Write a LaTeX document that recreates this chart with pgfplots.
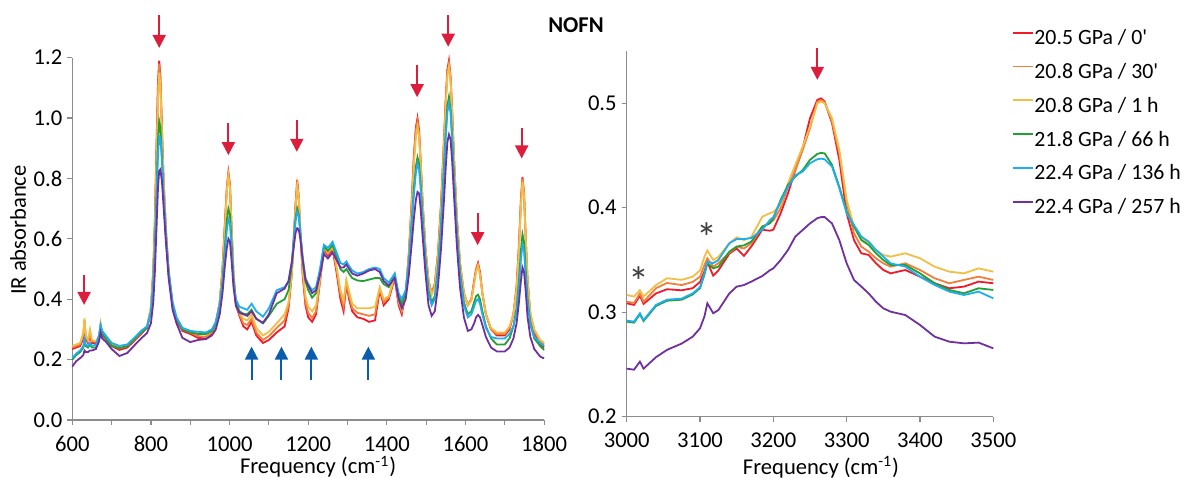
\documentclass[border=0pt]{standalone}
\usepackage{fontspec}
\setmainfont{Carlito}
\usepackage{pgfplots}
\usepackage{pgfplotstable}
\pgfplotsset{compat=1.18}
\usetikzlibrary{arrows.meta}

\definecolor{sR}{HTML}{F01A28}
\definecolor{sO}{HTML}{F07E3C}
\definecolor{sY}{HTML}{F2BE44}
\definecolor{sG}{HTML}{22A032}
\definecolor{sC}{HTML}{1EAEF0}
\definecolor{sP}{HTML}{7030A0}
\definecolor{arrowred}{HTML}{DC1E3C}
\definecolor{arrowblue}{HTML}{0B5CAD}
\definecolor{axisgray}{HTML}{8C8C8C}

% mid-IR region, columns: 0', 30', 1 h, 66 h, 136 h, 257 h
\pgfplotstableread{
f R O Y G C P
600 .235 .240 .245 .200 .205 .177
610 .240 .245 .250 .215 .220 .195
620 .245 .250 .255 .225 .230 .205
628 .270 .280 .290 .240 .245 .215
631 .330 .330 .337 .260 .270 .230
634 .270 .275 .280 .245 .250 .225
640 .255 .260 .265 .240 .245 .225
645 .280 .285 .300 .250 .255 .230
650 .255 .260 .265 .240 .245 .230
660 .255 .260 .260 .240 .250 .235
668 .270 .275 .280 .270 .280 .260
672 .310 .315 .320 .310 .315 .290
676 .280 .285 .290 .285 .295 .270
685 .270 .270 .275 .270 .280 .260
700 .245 .250 .255 .245 .255 .235
720 .232 .237 .245 .238 .245 .212
740 .240 .245 .250 .245 .250 .222
760 .265 .268 .272 .270 .275 .250
775 .285 .288 .292 .290 .295 .270
790 .305 .305 .310 .305 .310 .288
800 .370 .370 .375 .355 .360 .320
806 .500 .490 .480 .450 .450 .390
810 .660 .650 .630 .570 .560 .490
814 .900 .880 .850 .740 .720 .630
818 1.12 1.10 1.06 .930 .880 .770
821 1.19 1.18 1.15 .990 .940 .825
824 1.14 1.13 1.11 .970 .935 .830
828 .970 .960 .950 .870 .860 .790
832 .800 .800 .800 .750 .750 .710
838 .630 .630 .635 .610 .615 .590
845 .490 .490 .495 .485 .495 .470
855 .380 .380 .390 .380 .390 .365
865 .330 .335 .340 .335 .340 .320
880 .295 .300 .305 .300 .305 .272
900 .285 .290 .295 .290 .295 .258
920 .272 .278 .285 .285 .292 .265
940 .270 .275 .282 .285 .290 .268
955 .285 .290 .295 .295 .300 .280
965 .320 .320 .325 .320 .325 .300
975 .390 .390 .390 .380 .380 .350
982 .500 .500 .490 .460 .450 .420
988 .650 .640 .630 .570 .550 .510
993 .770 .760 .760 .660 .630 .570
997 .820 .810 .810 .700 .665 .600
1001 .780 .775 .770 .680 .650 .590
1005 .640 .640 .640 .590 .570 .530
1010 .480 .480 .490 .470 .460 .440
1016 .380 .385 .390 .390 .400 .380
1025 .345 .350 .355 .360 .375 .355
1035 .310 .320 .335 .352 .370 .350
1045 .300 .315 .330 .350 .365 .345
1056 .325 .335 .350 .365 .385 .360
1068 .280 .290 .305 .335 .360 .335
1085 .255 .265 .280 .320 .342 .322
1100 .265 .278 .292 .345 .370 .350
1120 .290 .305 .320 .385 .430 .420
1140 .310 .330 .350 .400 .440 .435
1150 .370 .380 .390 .430 .460 .460
1158 .480 .480 .480 .510 .520 .520
1164 .620 .610 .610 .610 .600 .580
1168 .720 .710 .710 .670 .660 .620
1172 .795 .770 .780 .700 .690 .635
1176 .740 .730 .740 .680 .675 .630
1180 .620 .620 .630 .620 .620 .600
1186 .480 .490 .500 .530 .540 .530
1193 .380 .390 .410 .460 .470 .465
1200 .340 .355 .375 .430 .450 .445
1210 .325 .338 .360 .405 .430 .420
1220 .350 .360 .380 .420 .440 .430
1230 .460 .460 .470 .490 .500 .480
1240 .565 .570 .575 .575 .580 .550
1250 .545 .550 .555 .560 .570 .535
1262 .565 .570 .575 .580 .590 .555
1272 .490 .500 .510 .540 .555 .530
1282 .400 .415 .430 .500 .520 .505
1290 .360 .375 .395 .490 .515 .505
1297 .450 .455 .465 .500 .525 .515
1304 .400 .410 .425 .485 .510 .500
1312 .360 .370 .385 .470 .495 .485
1325 .340 .355 .370 .462 .485 .478
1340 .335 .350 .370 .460 .490 .485
1355 .325 .345 .370 .465 .500 .495
1370 .330 .350 .375 .470 .505 .500
1382 .430 .435 .440 .470 .500 .490
1392 .380 .390 .400 .450 .470 .460
1405 .400 .405 .410 .440 .455 .445
1420 .470 .475 .480 .480 .485 .470
1430 .380 .390 .395 .410 .420 .400
1438 .350 .360 .365 .385 .400 .370
1448 .420 .420 .420 .420 .430 .400
1456 .550 .550 .540 .520 .520 .480
1463 .720 .710 .700 .650 .640 .580
1469 .880 .870 .850 .770 .750 .670
1474 .970 .960 .940 .840 .820 .730
1478 1.00 .990 .970 .870 .850 .755
1482 .960 .950 .940 .850 .830 .750
1486 .860 .850 .850 .780 .770 .700
1491 .720 .720 .720 .670 .660 .610
1498 .570 .570 .570 .540 .530 .490
1506 .460 .460 .460 .430 .420 .380
1514 .420 .420 .415 .390 .380 .345
1522 .450 .450 .440 .410 .400 .360
1530 .550 .550 .540 .500 .490 .440
1538 .720 .710 .700 .650 .640 .570
1545 .920 .910 .900 .830 .810 .720
1550 1.07 1.06 1.05 .960 .940 .840
1554 1.16 1.15 1.14 1.04 1.02 .920
1558 1.19 1.18 1.17 1.07 1.05 .945
1562 1.14 1.13 1.13 1.03 1.02 .930
1566 1.03 1.02 1.02 .940 .930 .860
1571 .860 .860 .860 .800 .790 .740
1578 .670 .670 .670 .630 .620 .580
1586 .520 .520 .520 .490 .480 .440
1596 .420 .420 .420 .390 .380 .340
1606 .380 .380 .380 .350 .340 .295
1615 .400 .400 .395 .360 .350 .300
1622 .460 .455 .450 .390 .375 .320
1627 .500 .500 .490 .410 .395 .340
1632 .520 .515 .510 .415 .400 .348
1637 .490 .485 .480 .400 .385 .340
1643 .420 .420 .420 .360 .350 .315
1652 .350 .350 .350 .310 .305 .275
1665 .300 .300 .305 .270 .275 .240
1680 .280 .285 .290 .250 .270 .227
1700 .280 .285 .290 .250 .270 .227
1712 .300 .305 .310 .270 .285 .240
1722 .350 .350 .350 .310 .310 .270
1730 .440 .440 .430 .370 .360 .320
1736 .580 .570 .560 .460 .440 .390
1741 .730 .720 .710 .560 .530 .460
1745 .805 .800 .790 .615 .580 .505
1749 .750 .750 .740 .590 .560 .490
1753 .610 .610 .610 .500 .480 .430
1758 .460 .460 .460 .400 .390 .340
1765 .350 .350 .355 .320 .315 .275
1775 .290 .295 .300 .270 .275 .235
1790 .250 .260 .265 .245 .255 .210
1800 .240 .250 .255 .232 .245 .204
}\midir

% C-H stretching region
\pgfplotstableread{
f R O Y G C P
3000 .3085 .3100 .3165 .2910 .2920 .2460
3010 .3070 .3090 .3150 .2900 .2910 .2450
3018 .3160 .3180 .3210 .2980 .2990 .2527
3023 .3080 .3100 .3150 .2915 .2925 .2460
3040 .3180 .3230 .3260 .3060 .3070 .2570
3055 .3220 .3280 .3325 .3110 .3120 .2640
3075 .3210 .3260 .3310 .3120 .3130 .2700
3090 .3230 .3290 .3340 .3170 .3180 .2766
3100 .3290 .3340 .3400 .3230 .3240 .2846
3106 .3390 .3450 .3530 .3360 .3370 .2960
3110 .3480 .3516 .3590 .3470 .3480 .3085
3118 .3350 .3436 .3500 .3420 .3470 .2990
3125 .3400 .3470 .3530 .3436 .3500 .3020
3140 .3560 .3570 .3660 .3580 .3660 .3180
3150 .3610 .3628 .3717 .3628 .3700 .3245
3160 .3540 .3610 .3690 .3640 .3700 .3260
3170 .3630 .3660 .3720 .3676 .3710 .3293
3185 .3790 .3820 .3915 .3820 .3790 .3347
3195 .3780 .3850 .3947 .3850 .3880 .3400
3200 .3790 .3880 .3960 .3900 .3910 .3420
3210 .3947 .3995 .4027 .4075 .4060 .3500
3220 .4138 .4200 .4234 .4218 .4200 .3596
3230 .4360 .4360 .4410 .4298 .4310 .3724
3240 .4570 .4553 .4585 .4360 .4346 .3787
3250 .4857 .4760 .4777 .4458 .4426 .3850
3260 .5032 .5016 .5000 .4515 .4464 .3900
3265 .5047 .5030 .5016 .4525 .4470 .3910
3270 .5016 .5010 .5000 .4520 .4464 .3910
3280 .4810 .4825 .4857 .4410 .4394 .3850
3290 .4458 .4520 .4553 .4200 .4186 .3690
3300 .3947 .4043 .4075 .3963 .3947 .3468
3310 .3690 .3755 .3820 .3820 .3835 .3309
3320 .3564 .3628 .3708 .3690 .3724 .3245
3330 .3548 .3580 .3660 .3644 .3676 .3180
3340 .3468 .3516 .3596 .3564 .3596 .3100
3350 .3404 .3468 .3548 .3500 .3532 .3037
3360 .3372 .3436 .3532 .3452 .3468 .3005
3380 .3404 .3468 .3564 .3452 .3436 .2973
3400 .3340 .3404 .3516 .3372 .3340 .2878
3420 .3277 .3325 .3436 .3277 .3261 .2766
3440 .3229 .3277 .3388 .3213 .3197 .2718
3460 .3245 .3309 .3372 .3181 .3165 .2702
3480 .3293 .3340 .3420 .3229 .3197 .2709
3500 .3277 .3309 .3388 .3213 .3133 .2654
}\chreg

\pgfplotsset{
  nofn/.style={
    scale only axis, axis lines=left,
    axis line style={-, draw=axisgray, line width=0.6pt},
    tick align=outside, major tick length=2.5pt, minor tick length=2.5pt,
    every tick/.style={draw=axisgray, line width=0.6pt},
    ticklabel style={font=\fontsize{11.3}{13}\selectfont, text=black},
    /pgf/number format/assume math mode=true,
    /pgf/number format/set thousands separator={},
    label style={font=\fontsize{11.3}{13}\selectfont, inner sep=0pt},
    clip=false,
    every axis plot/.append style={line width=0.9pt, no markers},
    xticklabel style={inner sep=1pt, yshift=-4.5pt},
    yticklabel style={xshift=1pt},
  },
}
\tikzset{
  redarrow/.style={arrowred, line width=1pt, -{Triangle[width=6.5pt, length=6.5pt]}},
  bluearrow/.style={arrowblue, line width=1pt, -{Triangle[width=6.5pt, length=6.5pt]}},
}

\begin{document}
\begin{tikzpicture}
\path[use as bounding box] (0,0) rectangle (592pt,238.5pt);

\node[font=\fontsize{11.3}{13}\selectfont\bfseries] at (288pt,226pt) {NOFN};

\begin{axis}[nofn,
  at={(36.15pt,28.5pt)}, anchor=south west,
  width=235.9pt, height=181.2pt,
  xmin=600, xmax=1800, ymin=0, ymax=1.2,
  xtick={600,800,...,1800}, minor xtick={700,900,...,1700},
  ytick={0,0.2,...,1.2},
  yticklabel style={/pgf/number format/.cd, fixed, fixed zerofill, precision=1},
  xlabel={Frequency (cm\textsuperscript{-1})},
  ylabel={IR absorbance},
  xlabel style={at={(axis description cs:0.521,-0.129)}, anchor=center},
  ylabel style={at={(axis description cs:-0.115,0.524)}, anchor=center},
]
\addplot[sR] table[x=f, y=R] {\midir};
\addplot[sO] table[x=f, y=O] {\midir};
\addplot[sY] table[x=f, y=Y] {\midir};
\addplot[sG] table[x=f, y=G] {\midir};
\addplot[sC] table[x=f, y=C] {\midir};
\addplot[sP] table[x=f, y=P] {\midir};

\draw[redarrow] (axis cs:630,0.480) -- (axis cs:630,0.381);
\draw[redarrow] (axis cs:821,1.341) -- (axis cs:821,1.232);
\draw[redarrow] (axis cs:997,0.983) -- (axis cs:997,0.877);
\draw[redarrow] (axis cs:1171,0.993) -- (axis cs:1171,0.888);
\draw[redarrow] (axis cs:1477,1.175) -- (axis cs:1477,1.069);
\draw[redarrow] (axis cs:1556,1.341) -- (axis cs:1556,1.236);
\draw[redarrow] (axis cs:1631,0.684) -- (axis cs:1631,0.579);
\draw[redarrow] (axis cs:1743,0.966) -- (axis cs:1743,0.866);

\draw[bluearrow] (axis cs:1056,0.134) -- (axis cs:1056,0.243);
\draw[bluearrow] (axis cs:1132,0.134) -- (axis cs:1132,0.243);
\draw[bluearrow] (axis cs:1208,0.134) -- (axis cs:1208,0.243);
\draw[bluearrow] (axis cs:1353,0.134) -- (axis cs:1353,0.243);
\end{axis}

\begin{axis}[nofn,
  at={(313.35pt,30.15pt)}, anchor=south west,
  width=183.3pt, height=182.85pt,
  xmin=3000, xmax=3500, ymin=0.2, ymax=0.55,
  xtick={3000,3100,...,3500},
  ytick={0.2,0.3,0.4,0.5},
  yticklabel style={/pgf/number format/.cd, fixed, fixed zerofill, precision=1},
  xlabel={Frequency (cm\textsuperscript{-1})},
  xlabel style={at={(axis description cs:0.53,-0.137)}, anchor=center},
  legend style={at={(1.05,1.0585)}, anchor=north west, draw=none, fill=none,
    inner sep=0pt, outer sep=0pt, row sep=6.9pt, column sep=0.5pt,
    nodes={inner sep=0pt, anchor=west, font=\fontsize{10.9}{13}\selectfont,
      text height=7.5pt, text depth=2.5pt}},
  legend cell align=left,
  legend image code/.code={\draw[#1, line width=0.9pt] (0pt,3.5pt) -- (10pt,3.5pt);},
]
\addplot[sR] table[x=f, y=R] {\chreg};
\addplot[sO] table[x=f, y=O] {\chreg};
\addplot[sY] table[x=f, y=Y] {\chreg};
\addplot[sG] table[x=f, y=G] {\chreg};
\addplot[sC] table[x=f, y=C] {\chreg};
\addplot[sP] table[x=f, y=P] {\chreg};
\legend{20.5 GPa / 0\textquotesingle, 20.8 GPa / 30\textquotesingle, 20.8 GPa / 1 h,
  21.8 GPa / 66 h, 22.4 GPa / 136 h, 22.4 GPa / 257 h}

\draw[redarrow] (axis cs:3260,0.5527) -- (axis cs:3260,0.5224);
\node[text=black!75, font=\fontsize{21}{21}\selectfont] at (axis cs:3017,0.329) {*};
\node[text=black!75, font=\fontsize{21}{21}\selectfont] at (axis cs:3109,0.371) {*};
\end{axis}
\end{tikzpicture}
\end{document}
